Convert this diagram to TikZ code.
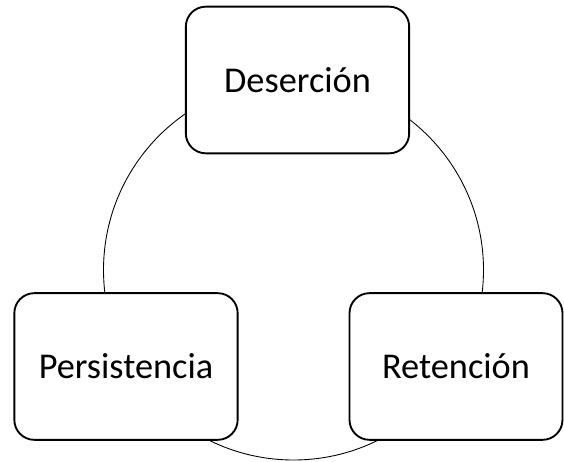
\documentclass[tikz,border=0pt]{standalone}
\usepackage{fontspec}
\setmainfont{Carlito}
\usetikzlibrary{positioning}

\tikzset{phase/.style={draw, line width=1.6pt, fill=white, rounded corners=0.6cm,
	minimum width=6.7cm, minimum height=4.4cm, inner sep=0pt,
	font=\fontsize{31}{37}\selectfont}}

\begin{document}
\begin{tikzpicture}
\useasboundingbox (0,0) rectangle (16.92,13.83);
\coordinate (ctr) at (8.805,5.73);

\draw[line width=0.75pt] (ctr) circle[radius=5.7cm];

\node[phase](des) at (8.925,11.43) {Deserción};
\node[phase](per) at (3.78,2.835) {Persistencia};
\node[phase,minimum width=6.39cm](ret) at (13.68,2.835) {Retención};

\end{tikzpicture}
\end{document}
